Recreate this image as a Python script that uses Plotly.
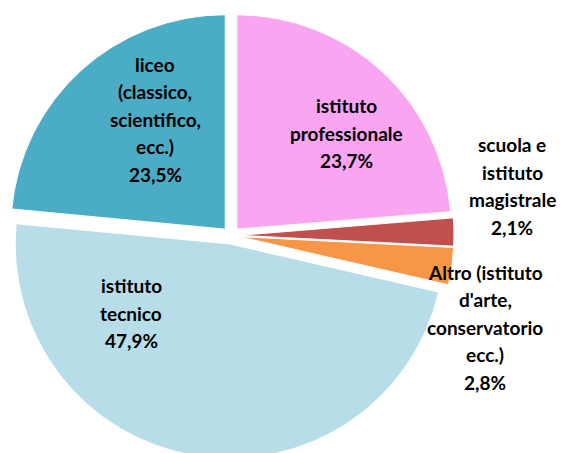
import plotly.graph_objects as go

# Data
labels = [
    "istituto professionale",
    "scuola e istituto magistrale",
    "Altro (istituto d'arte, conservatorio ecc.)",
    "istituto tecnico",
    "liceo (classico, scientifico, ecc.)",
]
label_lines = [
    ["istituto", "professionale"],
    ["scuola e", "istituto", "magistrale"],
    ["Altro (istituto", "d'arte,", "conservatorio", "ecc.)"],
    ["istituto", "tecnico"],
    ["liceo", "(classico,", "scientifico,", "ecc.)"],
]
values = [23.7, 2.1, 2.8, 47.9, 23.5]
colors = ["#F9A5F1", "#C0504D", "#F79646", "#B7DEE8", "#4BACC6"]

W, H = 567, 455
OFF = 8  # page body margin
# label block centres (page pixels) – layout only
label_centres = [(346, 133), (512, 186), (485, 327), (131, 313), (155, 119)]
LINE_GAP = 27.5

fig = go.Figure(
    go.Pie(
        labels=labels,
        values=values,
        sort=False,
        direction="clockwise",
        rotation=0,
        pull=[0.04] * len(values),
        marker=dict(colors=colors, line=dict(color="white", width=1)),
        textinfo="none",
        hoverinfo="label+percent",
        showlegend=False,
        domain=dict(x=[0, 446 / W], y=[0, 1]),
    )
)

annotations = []
for lines, v, (cx, cy) in zip(label_lines, values, label_centres):
    all_lines = lines + [f"{v:.1f}".replace(".", ",") + "%"]
    n = len(all_lines)
    for i, t in enumerate(all_lines):
        py = cy + (i - (n - 1) / 2) * LINE_GAP - OFF
        annotations.append(
            dict(
                x=(cx - OFF) / W,
                y=1 - py / H,
                xref="paper",
                yref="paper",
                text=f"<b>{t}</b>",
                showarrow=False,
                xanchor="center",
                yanchor="middle",
                font=dict(family="Lato", size=19, color="black"),
            )
        )

fig.update_layout(
    width=W,
    height=H,
    margin=dict(l=0, r=0, t=0, b=0),
    paper_bgcolor="white",
    plot_bgcolor="white",
    annotations=annotations,
)

fig.write_html("out.html")
